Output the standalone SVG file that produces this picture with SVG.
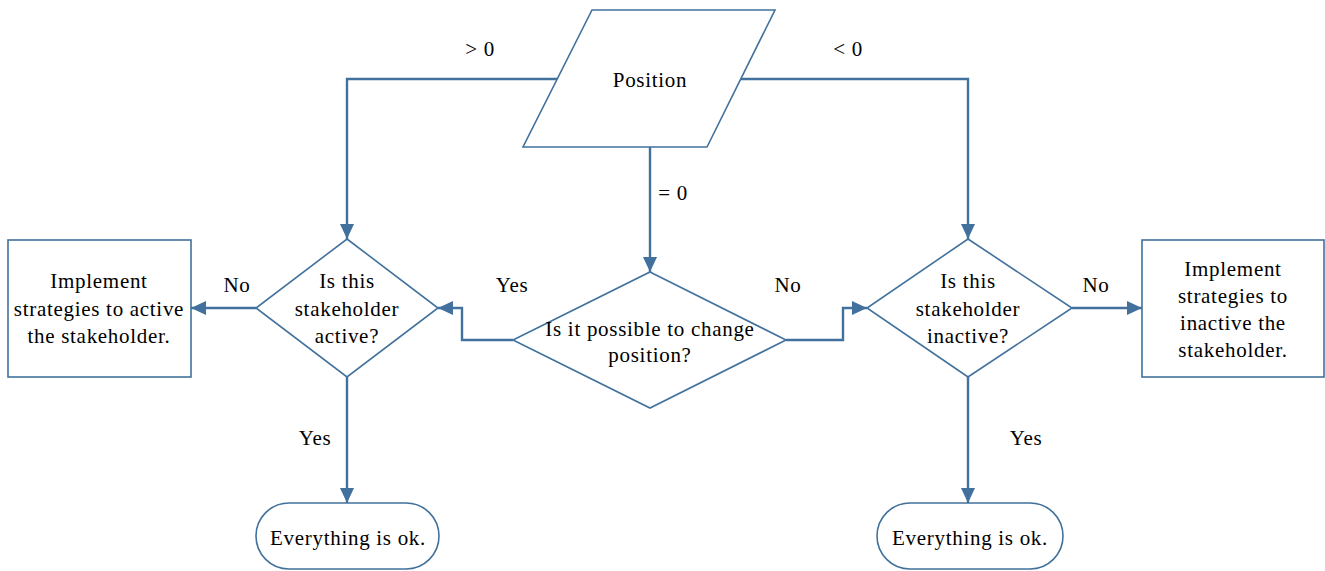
<svg xmlns="http://www.w3.org/2000/svg" width="1325" height="571" viewBox="0 0 1325 571">
<defs>
<marker id="arr" markerUnits="userSpaceOnUse" markerWidth="16" markerHeight="14" refX="15" refY="7" orient="auto">
<path d="M0,0 L15,7 L0,14 Z" fill="#41719C"/>
</marker>
</defs>
<style>
.shape{fill:#fff;stroke:#41719C;stroke-width:1.6}
.conn{fill:none;stroke:#41719C;stroke-width:2.4}
text{font-family:"Liberation Serif","Times New Roman",serif;font-size:21px;fill:#000;letter-spacing:0.7px;text-anchor:middle}
</style>
<rect width="1325" height="571" fill="#fff"/>
<g id="connectors">
<path class="conn" d="M558,79 H347 V239" marker-end="url(#arr)"/>
<path class="conn" d="M741,79 H968 V239" marker-end="url(#arr)"/>
<path class="conn" d="M650,147 V272" marker-end="url(#arr)"/>
<path class="conn" d="M513,340 H462 V308 H438" marker-end="url(#arr)"/>
<path class="conn" d="M786,340 H843 V308 H867" marker-end="url(#arr)"/>
<path class="conn" d="M256,308 H191" marker-end="url(#arr)"/>
<path class="conn" d="M1072,308 H1142" marker-end="url(#arr)"/>
<path class="conn" d="M347,377 V503" marker-end="url(#arr)"/>
<path class="conn" d="M968,377 V503" marker-end="url(#arr)"/>
</g>
<g id="labels">
<text x="480" y="56">&gt; 0</text>
<text x="848" y="56">&lt; 0</text>
<text x="673" y="200">= 0</text>
<text x="237" y="292">No</text>
<text x="512" y="292">Yes</text>
<text x="788" y="292">No</text>
<text x="1096" y="292">No</text>
<text x="315" y="445">Yes</text>
<text x="1026" y="445">Yes</text>
</g>
<g id="position">
<polygon class="shape" points="592,10 775,10 707,147 523,147"/>
<text x="650" y="87">Position</text>
</g>
<g id="active-q">
<polygon class="shape" points="347,239 438,308 347,377 256,308"/>
<text x="347" y="288">Is this</text>
<text x="347" y="316">stakeholder</text>
<text x="347" y="343">active?</text>
</g>
<g id="active-box">
<rect class="shape" x="8" y="240" width="183" height="137"/>
<text x="99" y="288">Implement</text>
<text x="99" y="316">strategies to active</text>
<text x="99" y="343">the stakeholder.</text>
</g>
<g id="change-q">
<polygon class="shape" points="650,272 786,340 650,408 513,340"/>
<text x="650" y="336">Is it possible to change</text>
<text x="650" y="362">position?</text>
</g>
<g id="inactive-q">
<polygon class="shape" points="968,239 1072,308 968,377 867,308"/>
<text x="968" y="288">Is this</text>
<text x="968" y="316">stakeholder</text>
<text x="968" y="343">inactive?</text>
</g>
<g id="inactive-box">
<rect class="shape" x="1142" y="240" width="182" height="137"/>
<text x="1233" y="276">Implement</text>
<text x="1233" y="303">strategies to</text>
<text x="1233" y="330">inactive the</text>
<text x="1233" y="357">stakeholder.</text>
</g>
<g id="ok-left">
<rect class="shape" x="256" y="503" width="183" height="66" rx="33"/>
<text x="348" y="545">Everything is ok.</text>
</g>
<g id="ok-right">
<rect class="shape" x="877" y="503" width="186" height="66" rx="33"/>
<text x="970" y="545">Everything is ok.</text>
</g>
</svg>
